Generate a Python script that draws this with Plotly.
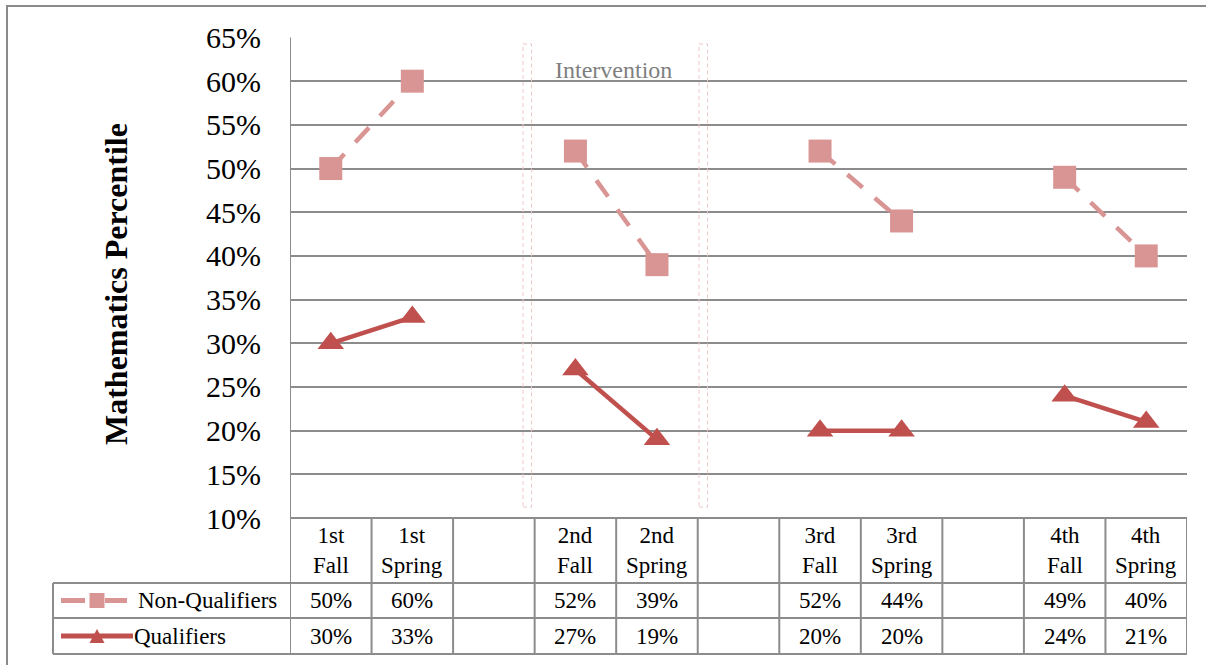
import plotly.graph_objects as go

# ---- data -------------------------------------------------------------
categories = ["1st Fall", "1st Spring", "", "2nd Fall", "2nd Spring", "",
              "3rd Fall", "3rd Spring", "", "4th Fall", "4th Spring"]
non_qualifiers = [50, 60, None, 52, 39, None, 52, 44, None, 49, 40]
qualifiers = [30, 33, None, 27, 19, None, 20, 20, None, 24, 21]
series_names = ["Non-Qualifiers", "Qualifiers"]
y_ticks = [10, 15, 20, 25, 30, 35, 40, 45, 50, 55, 60, 65]
y_tick_labels = [f"{v}%" for v in y_ticks]

# ---- geometry (pixels) ------------------------------------------------
W, H = 1206, 665
PL, PR = 290, 1187          # plot area left / right
PT, PB = 37.5, 518          # plot area top / bottom
ROW1, ROW2, ROW3 = 583, 618, 654   # table row boundaries
LEG_L = 53                  # left edge of legend column

NQ_COLOR = "#D99594"
Q_COLOR = "#C0504D"
GRID = "#8C8C8C"
FONT = "Liberation Serif, Times New Roman, serif"


def px(x):
    return x / W


def py(y):
    return 1 - y / H


xs = list(range(len(categories)))

fig = go.Figure()
fig.add_trace(go.Scatter(
    x=xs, y=non_qualifiers, name=series_names[0], mode="lines+markers",
    line=dict(color=NQ_COLOR, width=4.5, dash="20px,16px"),
    marker=dict(symbol="square", size=23, color=NQ_COLOR),
    connectgaps=False, showlegend=False, cliponaxis=False))
fig.add_trace(go.Scatter(
    x=xs, y=qualifiers, name=series_names[1], mode="lines+markers",
    line=dict(color=Q_COLOR, width=4.5),
    marker=dict(symbol="triangle-up", size=23, color=Q_COLOR),
    connectgaps=False, showlegend=False, cliponaxis=False))

shapes = []
line_style = dict(color=GRID, width=2)

# outer chart frame
shapes.append(dict(type="rect", xref="paper", yref="paper",
                   x0=px(7), x1=px(W + 10), y0=py(H + 10), y1=py(6),
                   line=dict(color="#8A8A8A", width=2)))

# intervention markers (two thin dashed boxes)
for x0, x1 in [(523, 531.5), (699, 707.5)]:
    shapes.append(dict(type="rect", xref="paper", yref="paper",
                       x0=px(x0), x1=px(x1), y0=py(507), y1=py(44),
                       line=dict(color="#EFC8C8", width=1, dash="4px,3px")))

# data table: vertical column boundaries
n = len(categories)
for k in range(n + 1):
    top = PT if k == 0 else PB
    shapes.append(dict(type="line", xref="x", yref="paper",
                       x0=k - 0.5, x1=k - 0.5, y0=py(top), y1=py(ROW3),
                       line=line_style))
# legend column left edge
shapes.append(dict(type="line", xref="paper", yref="paper",
                   x0=px(LEG_L), x1=px(LEG_L), y0=py(ROW1), y1=py(ROW3),
                   line=line_style))
# horizontal rules
shapes.append(dict(type="line", xref="paper", yref="paper",
                   x0=px(PL), x1=px(PR), y0=py(PB), y1=py(PB), line=line_style))
for yy in (ROW1, ROW2, ROW3):
    shapes.append(dict(type="line", xref="paper", yref="paper",
                       x0=px(LEG_L), x1=px(PR), y0=py(yy), y1=py(yy),
                       line=line_style))

# legend keys inside the table
r1c = (ROW1 + ROW2) / 2
r2c = (ROW2 + ROW3) / 2
key_cx = 97
for a, b in [(61, 85), (105, 127)]:
    shapes.append(dict(type="line", xref="paper", yref="paper",
                       x0=px(a), x1=px(b), y0=py(r1c), y1=py(r1c),
                       line=dict(color=NQ_COLOR, width=5)))
shapes.append(dict(type="rect", xref="paper", yref="paper",
                   x0=px(key_cx - 7.5), x1=px(key_cx + 7.5),
                   y0=py(r1c + 7.5), y1=py(r1c - 7.5),
                   fillcolor=NQ_COLOR, line=dict(width=0)))
shapes.append(dict(type="line", xref="paper", yref="paper",
                   x0=px(61), x1=px(133), y0=py(r2c), y1=py(r2c),
                   line=dict(color=Q_COLOR, width=5)))
tri = "M {},{} L {},{} L {},{} Z".format(
    px(key_cx - 7.5), py(r2c + 7), px(key_cx + 7.5), py(r2c + 7),
    px(key_cx), py(r2c - 7))
shapes.append(dict(type="path", xref="paper", yref="paper", path=tri,
                   fillcolor=Q_COLOR, line=dict(width=0)))

annotations = []
cell_font = dict(family=FONT, size=23, color="black")

# column headers and cell values
for i, cat in enumerate(categories):
    if cat:
        annotations.append(dict(
            x=i, xref="x", y=py((PB + ROW1) / 2), yref="paper",
            text="<br>".join(cat.split(" ")), showarrow=False,
            font=cell_font, xanchor="center", yanchor="middle"))
    for vals, yc in ((non_qualifiers, r1c), (qualifiers, r2c)):
        if vals[i] is not None:
            annotations.append(dict(
                x=i, xref="x", y=py(yc), yref="paper",
                text=f"{vals[i]}%", showarrow=False, font=cell_font,
                xanchor="center", yanchor="middle"))

# series names in the legend column
annotations.append(dict(x=px(136), xref="paper", y=py(r1c), yref="paper",
                        text=series_names[0], showarrow=False, font=cell_font,
                        xanchor="left", yanchor="middle"))
annotations.append(dict(x=px(132), xref="paper", y=py(r2c), yref="paper",
                        text=series_names[1], showarrow=False, font=cell_font,
                        xanchor="left", yanchor="middle"))

# intervention label
annotations.append(dict(x=px(613), xref="paper", y=py(70), yref="paper",
                        text="Intervention", showarrow=False,
                        font=dict(family=FONT, size=24, color="#7F7F7F"),
                        xanchor="center", yanchor="middle"))

# y-axis title
annotations.append(dict(x=px(116), xref="paper", y=py(284), yref="paper",
                        text="<b>Mathematics Percentile</b>", textangle=-90,
                        showarrow=False,
                        font=dict(family=FONT, size=32, color="black"),
                        xanchor="center", yanchor="middle"))

fig.update_layout(
    width=W, height=H, autosize=False,
    margin=dict(l=0, r=0, t=0, b=0, pad=0),
    paper_bgcolor="white", plot_bgcolor="white",
    xaxis=dict(domain=[px(PL), px(PR)], range=[-0.5, n - 0.5],
               showgrid=False, zeroline=False, showline=False,
               showticklabels=False, ticks="", fixedrange=True,
               automargin=False),
    yaxis=dict(domain=[py(PB), py(PT)], range=[10, 65],
               tickmode="array", tickvals=y_ticks, ticktext=y_tick_labels,
               showgrid=True, gridcolor=GRID, gridwidth=2,
               zeroline=False, showline=False, ticks="",
               ticklabelstandoff=28,
               tickfont=dict(family=FONT, size=30, color="black"),
               fixedrange=True, automargin=False),
    shapes=shapes,
    annotations=annotations,
    showlegend=False,
)

fig.write_html("out.html")
